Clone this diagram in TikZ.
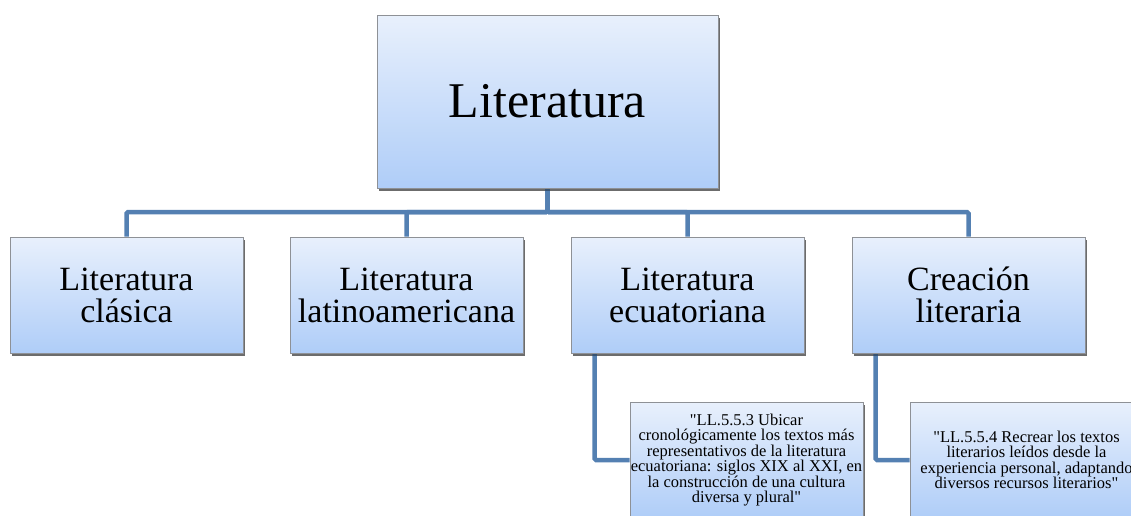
\documentclass[tikz,border=0pt]{standalone}
\usepackage{fontspec}
\setmainfont{Liberation Serif}[Ligatures=TeXOff]
\usetikzlibrary{shadows}
\definecolor{boxtop}{HTML}{E8F0FC}
\definecolor{boxbot}{HTML}{AFCDF8}
\definecolor{boxline}{HTML}{8E9196}
\definecolor{conn}{HTML}{5480B2}
\begin{document}
\begin{tikzpicture}[x=1pt,y=-1pt,
  gbox/.style={rectangle, draw=boxline, line width=0.8pt, top color=boxtop, bottom color=boxbot,
    drop shadow={shadow xshift=2pt, shadow yshift=-2.5pt, opacity=0.35, fill=black},
    align=center, inner sep=0pt},
  topbox/.style={gbox, minimum width=341pt, minimum height=173pt, font=\fontsize{50}{56}\selectfont},
  midbox/.style={gbox, minimum width=233pt, minimum height=116pt, font=\fontsize{34}{32}\selectfont},
  subbox/.style={gbox, minimum width=233pt, minimum height=116pt, font=\fontsize{16.5}{15.4}\selectfont},
  connline/.style={draw=conn, line width=4.5pt, rounded corners=1.5pt}
]
\useasboundingbox (0,0) rectangle (1131,515);
\coordinate (bus) at (0,212);
\node[topbox] (top) at (547.5,101.5) {Literatura};
\node[midbox] (b1) at (126.5,295) {Literatura\\clásica};
\node[midbox] (b2) at (406.5,295) {Literatura\\latinoamericana};
\node[midbox] (b3) at (687.5,295) {Literatura\\ecuatoriana};
\node[midbox] (b4) at (968.5,295) {Creación\\literaria};
\node[subbox] (s1) at (746.5,460) {"LL.5.5.3 Ubicar\\cronológicamente los textos más\\representativos de la literatura\\ecuatoriana: siglos XIX al XXI, en\\la construcción de una cultura\\diversa y plural"};
\node[subbox] (s2) at (1026.5,460) {"LL.5.5.4 Recrear los textos\\literarios leídos desde la\\experiencia personal, adaptando\\diversos recursos literarios"};
\draw[connline] (top.south) -- (top.south |- bus) -| (b1.north);
\draw[connline] (top.south) -- (top.south |- bus) -| (b2.north);
\draw[connline] (top.south) -- (top.south |- bus) -| (b3.north);
\draw[connline] (top.south) -- (top.south |- bus) -| (b4.north);
\draw[connline] ([xshift=24pt]b3.south west) |- (s1.west);
\draw[connline] ([xshift=24pt]b4.south west) |- (s2.west);
% redraw boxes over connector ends
\node[topbox] at (top) {Literatura};
\node[midbox] at (b1) {Literatura\\clásica};
\node[midbox] at (b2) {Literatura\\latinoamericana};
\node[midbox] at (b3) {Literatura\\ecuatoriana};
\node[midbox] at (b4) {Creación\\literaria};
\node[subbox] at (s1) {"LL.5.5.3 Ubicar\\cronológicamente los textos más\\representativos de la literatura\\ecuatoriana: siglos XIX al XXI, en\\la construcción de una cultura\\diversa y plural"};
\node[subbox] at (s2) {"LL.5.5.4 Recrear los textos\\literarios leídos desde la\\experiencia personal, adaptando\\diversos recursos literarios"};
\end{tikzpicture}
\end{document}
